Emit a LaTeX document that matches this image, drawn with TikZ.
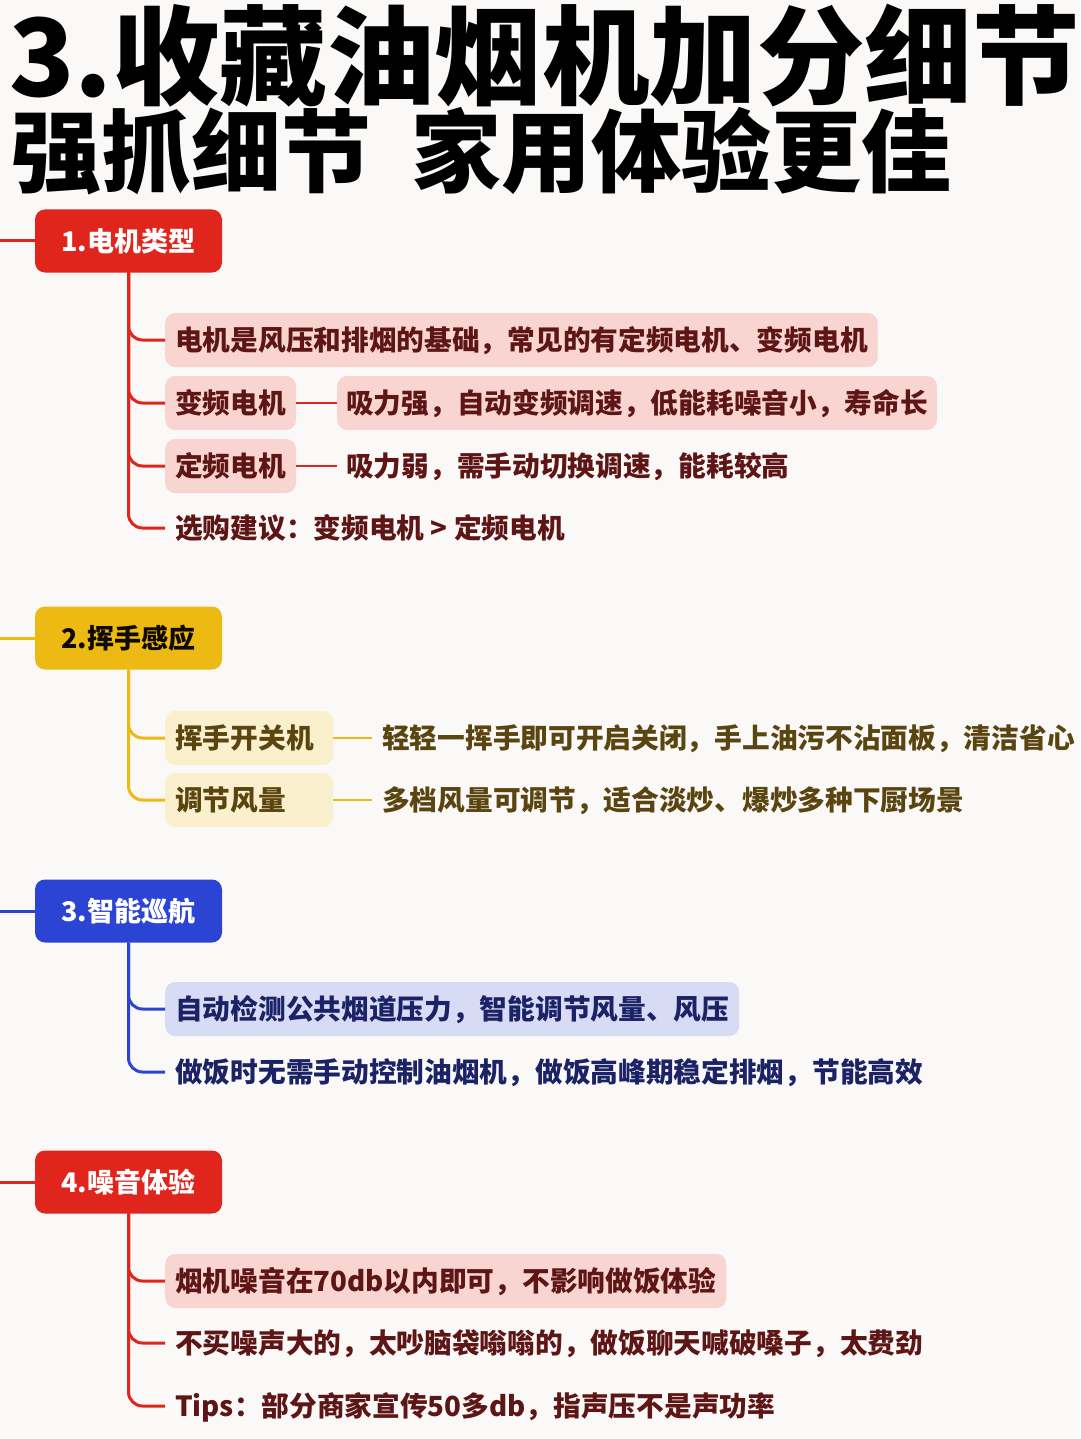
\documentclass[tikz,border=0pt]{standalone}
\usepackage{fontspec}
\setmainfont{Noto Sans CJK SC}
\definecolor{bg}{HTML}{FAF9F7}
\definecolor{redH}{HTML}{E0251C}
\definecolor{redF}{HTML}{F8D5D0}
\definecolor{redT}{HTML}{5E1515}
\definecolor{yelH}{HTML}{EDB913}
\definecolor{yelF}{HTML}{FBF0CD}
\definecolor{yelT}{HTML}{5A4510}
\definecolor{bluH}{HTML}{2C44D4}
\definecolor{bluF}{HTML}{D7DBF3}
\definecolor{bluT}{HTML}{1B2366}
\begin{document}
\begin{tikzpicture}[x=1pt,y=-1pt,
  hdr/.style={rounded corners=10pt, minimum width=187pt, minimum height=63pt, inner sep=0pt,
    font=\fontsize{27}{30}\selectfont\bfseries, text height=23.8pt, text depth=3.2pt},
  kid/.style={anchor=west, rounded corners=10pt, inner xsep=10pt, inner ysep=0pt, minimum height=54pt,
    font=\fontsize{27.7}{32}\selectfont\bfseries, text height=24.4pt, text depth=3.3pt},
  dtl/.style={kid, inner xsep=9pt},
  ttl/.style={anchor=base west, inner sep=0pt, font=\bfseries},
  lnk/.style={line width=3pt, rounded corners=14pt},
  sub/.style={line width=2.5pt}
]
\useasboundingbox[fill=bg] (0,0) rectangle (1080,1439);

% title
\node[ttl, font=\fontsize{107.5}{110}\selectfont\bfseries] (t1) at (9,97) {3.收藏油烟机加分细节};
\node[ttl, font=\fontsize{90}{96}\selectfont\bfseries] (t2) at (11,186) {强抓细节\hspace{40pt}家用体验更佳};

% ---------- section 1
\coordinate (s1) at (0,241);
\node[hdr, fill=redH, text=white] (h1) at (128.5,241) {1.电机类型};
\draw[lnk, redH] (s1) -- (h1.west);
\node[kid, fill=redF, text=redT] (a1) at (165,340) {电机是风压和排烟的基础，常见的有定频电机、变频电机};
\node[kid, fill=redF, text=redT] (a2) at (165,403) {变频电机};
\node[dtl, fill=redF, text=redT] (a2d) at (337,403) {吸力强，自动变频调速，低能耗噪音小，寿命长};
\node[kid, fill=redF, text=redT] (a3) at (165,466) {定频电机};
\node[dtl, text=redT] (a3d) at (337,466) {吸力弱，需手动切换调速，能耗较高};
\node[kid, text=redT] (a4) at (165,528) {选购建议：变频电机 > 定频电机};
\foreach \n in {a1,a2,a3,a4} \draw[lnk, redH] (h1.south) |- (\n.west);
\draw[sub, redH] (a2.east) -- (a2d.west);
\draw[sub, redH] (a3.east) -- (a3d.west);

% ---------- section 2
\coordinate (s2) at (0,638);
\node[hdr, fill=yelH, text=black!85!yelT] (h2) at (128.5,638) {2.挥手感应};
\draw[lnk, yelH] (s2) -- (h2.west);
\node[kid, fill=yelF, text=yelT, text width=148pt, align=left] (b1) at (165,738) {挥手开关机};
\node[kid, fill=yelF, text=yelT, text width=148pt, align=left] (b2) at (165,800) {调节风量};
\node[kid, text=yelT] (b1d) at (372,738) {轻轻一挥手即可开启关闭，手上油污不沾面板，清洁省心};
\node[kid, text=yelT] (b2d) at (372,800) {多档风量可调节，适合淡炒、爆炒多种下厨场景};
\foreach \n in {b1,b2} \draw[lnk, yelH] (h2.south) |- (\n.west);
\draw[sub, yelH] (b1.east) -- (b1d.west);
\draw[sub, yelH] (b2.east) -- (b2d.west);

% ---------- section 3
\coordinate (s3) at (0,911);
\node[hdr, fill=bluH, text=white] (h3) at (128.5,911) {3.智能巡航};
\draw[lnk, bluH] (s3) -- (h3.west);
\node[kid, fill=bluF, text=bluT] (c1) at (165,1009) {自动检测公共烟道压力，智能调节风量、风压};
\node[kid, text=bluT] (c2) at (165,1072) {做饭时无需手动控制油烟机，做饭高峰期稳定排烟，节能高效};
\foreach \n in {c1,c2} \draw[lnk, bluH] (h3.south) |- (\n.west);

% ---------- section 4
\coordinate (s4) at (0,1182);
\node[hdr, fill=redH, text=white] (h4) at (128.5,1182) {4.噪音体验};
\draw[lnk, redH] (s4) -- (h4.west);
\node[kid, fill=redF, text=redT] (d1) at (165,1281) {烟机噪音在70db以内即可，不影响做饭体验};
\node[kid, text=redT] (d2) at (165,1343) {不买噪声大的，太吵脑袋嗡嗡的，做饭聊天喊破嗓子，太费劲};
\node[kid, text=redT] (d3) at (165,1406) {Tips：部分商家宣传50多db，指声压不是声功率};
\foreach \n in {d1,d2,d3} \draw[lnk, redH] (h4.south) |- (\n.west);
\end{tikzpicture}
\end{document}
